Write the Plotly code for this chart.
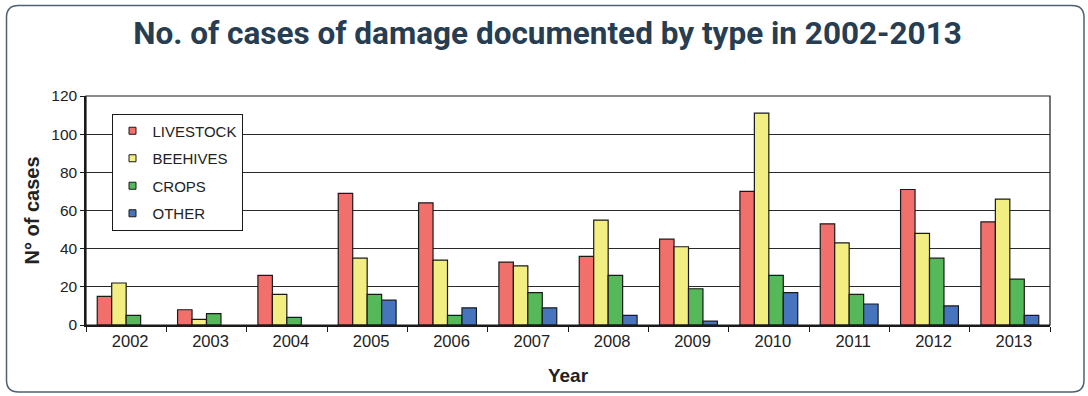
import plotly.graph_objects as go

years = ["2002", "2003", "2004", "2005", "2006", "2007", "2008", "2009", "2010", "2011", "2012", "2013"]
livestock = [15, 8, 26, 69, 64, 33, 36, 45, 70, 53, 71, 54]
beehives = [22, 3, 16, 35, 34, 31, 55, 41, 111, 43, 48, 66]
crops = [5, 6, 4, 16, 5, 17, 26, 19, 26, 16, 35, 24]
other = [0, 0, 0, 13, 9, 9, 5, 2, 17, 11, 10, 5]
y_ticks = [0, 20, 40, 60, 80, 100, 120]

series = [
    ("LIVESTOCK", livestock, "#f2706b"),
    ("BEEHIVES", beehives, "#f3ee82"),
    ("CROPS", crops, "#55b95a"),
    ("OTHER", other, "#4675bd"),
]

W, H = 1088, 396
L, R, T, B = 86, 38, 96, 71
pw, ph = W - L - R, H - T - B

fig = go.Figure()
for name, vals, col in series:
    fig.add_trace(go.Bar(
        x=years, y=[v if v > 0 else None for v in vals], name=name,
        marker=dict(color=col, line=dict(color="#1a1a1a", width=1.2)),
        showlegend=False,
    ))
for i, (name, vals, col) in enumerate(series):
    fig.add_trace(go.Scatter(
        x=[years[0]], y=[None], name=name, mode="markers",
        marker=dict(symbol="square", size=7, color=col, line=dict(color="#1a1a1a", width=1)),
        legendgroup=f"g{i}",
    ))

def px_x(p):
    return (p - L) / pw

def px_y(p):
    return (H - B - p) / ph

# rounded outer frame
x0, x1, y0, y1 = 6.5, 1084, 5.5, 392
r = 12
path = (
    f"M {px_x(x0 + r)},{px_y(y0)} L {px_x(x1 - r)},{px_y(y0)} "
    f"Q {px_x(x1)},{px_y(y0)} {px_x(x1)},{px_y(y0 + r)} "
    f"L {px_x(x1)},{px_y(y1 - r)} Q {px_x(x1)},{px_y(y1)} {px_x(x1 - r)},{px_y(y1)} "
    f"L {px_x(x0 + r)},{px_y(y1)} Q {px_x(x0)},{px_y(y1)} {px_x(x0)},{px_y(y1 - r)} "
    f"L {px_x(x0)},{px_y(y0 + r)} Q {px_x(x0)},{px_y(y0)} {px_x(x0 + r)},{px_y(y0)} Z"
)
fig.add_shape(type="path", path=path, xref="paper", yref="paper",
              line=dict(color="#4f6072", width=1.5), layer="below")
# plot area right/top border
fig.add_shape(type="rect", xref="paper", yref="paper", x0=0, x1=1, y0=0, y1=1,
              line=dict(color="#1a1a1a", width=1.2), layer="above")

fig.update_layout(
    width=W, height=H,
    margin=dict(l=L, r=R, t=T, b=B),
    paper_bgcolor="white", plot_bgcolor="white",
    barmode="group", bargap=0.28, bargroupgap=0,
    title=dict(text="<b>No. of cases of damage documented by type in 2002-2013</b>",
               x=547.5 / W, xref="container", xanchor="center", y=1 - 33 / H, yanchor="middle",
               font=dict(family="Roboto", size=31.5, color="#263d52")),
    font=dict(family="Liberation Sans, Arial", size=13, color="#222"),
    legend=dict(x=px_x(111.5), y=px_y(113.5), xanchor="left", yanchor="top",
                bgcolor="white", bordercolor="#1a1a1a", borderwidth=1,
                font=dict(size=15, color="#222"), tracegroupgap=5,
                itemwidth=30),
    xaxis=dict(
        title=dict(text="<b>Year</b>", font=dict(size=19, color="#222"), standoff=20),
        range=[-0.5, len(years) - 0.5], fixedrange=True,
        tickson="boundaries", ticks="outside", ticklen=5, tickcolor="#1a1a1a",
        showline=True, linecolor="#1a1a1a", linewidth=1.5,
        tickfont=dict(size=16.5, color="#222"), ticklabelshift=4,
    ),
    yaxis=dict(
        title=dict(text="<b>N° of cases</b>", font=dict(size=20, color="#222"), standoff=6),
        range=[0, 120], tickvals=y_ticks, ticks="outside", ticklen=4, tickcolor="#1a1a1a",
        showline=True, linecolor="#1a1a1a", linewidth=1.5,
        showgrid=True, gridcolor="#2a2a2a", gridwidth=1.2, zeroline=False,
        tickfont=dict(size=15.5, color="#222"),
    ),
)

fig.write_html("out.html", config={"displayModeBar": False},
               post_script="document.body.style.margin='0';")
